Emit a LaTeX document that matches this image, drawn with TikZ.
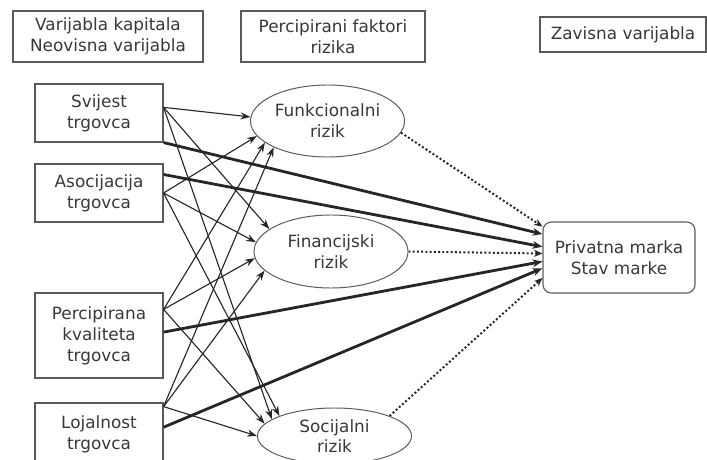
\documentclass[tikz,border=0pt]{standalone}
\usepackage{fontspec}
\setmainfont{DejaVu Sans}
\usepackage{xcolor}
\usetikzlibrary{positioning}
\usetikzlibrary{arrows, shapes, arrows.meta}
\definecolor{boxgray}{HTML}{5A5A5A}
\definecolor{txtgray}{HTML}{383838}
\tikzstyle{hdr} = [rectangle, draw=boxgray, line width=0.8pt, text=txtgray, align=center, font=\fontsize{12}{15}\selectfont]
\tikzstyle{var} = [rectangle, draw=boxgray, line width=0.8pt, minimum width=3.2cm, text=txtgray, align=center, font=\fontsize{12}{15}\selectfont]
\tikzstyle{risk} = [ellipse, draw=boxgray, line width=0.7pt, inner sep=0pt, minimum width=3.85cm, text=txtgray, align=center, font=\fontsize{12}{15}\selectfont]
\tikzstyle{arrow} = [line width=0.8pt, black!85, -{Stealth[length=7pt,width=5pt]}]
\tikzstyle{bold} = [line width=2pt, black!85, -{Stealth[length=7pt,width=5.5pt]}]
\tikzstyle{dots} = [line width=1.4pt, black!85, dash pattern=on 1.4pt off 1.6pt, -{Stealth[length=6pt,width=5pt]}]

\begin{document}
\begin{tikzpicture}[x=0.025cm, y=-0.025cm]
    \useasboundingbox (0,0) rectangle (707,459);
    % headers
    \node[hdr, minimum width=4.75cm, minimum height=1.275cm] (hA) at (108,36.5) {Varijabla kapitala\\Neovisna varijabla};
    \node[hdr, minimum width=4.6cm, minimum height=1.275cm] (hB) at (333,36.5) {Percipirani faktori\\rizika};
    \node[hdr, minimum width=4.15cm, minimum height=0.875cm] (hC) at (623,34.5) {Zavisna varijabla};
    % capital variables
    \node[var, minimum height=1.45cm] (svijest) at (99,113) {Svijest\\trgovca};
    \node[var, minimum height=1.45cm] (asoc) at (99,193) {Asocijacija\\trgovca};
    \node[var, minimum height=2.125cm] (perc) at (99,335.5) {Percipirana\\kvaliteta\\trgovca};
    \node[var, minimum height=1.55cm] (lojal) at (99,434) {Lojalnost\\trgovca};
    % perceived risks
    \node[risk, minimum height=1.8cm] (funk) at (327.5,121) {Funkcionalni\\rizik};
    \node[risk, minimum height=1.825cm] (fin) at (331,251.5) {Financijski\\rizik};
    \node[risk, minimum height=1.4cm, font=\fontsize{12}{14}\selectfont] (soc) at (334.5,436) {Socijalni\\rizik};
    % dependent variable
    \node[shape=rectangle, rounded corners=6pt, draw=boxgray, line width=0.8pt, text=txtgray, align=center,
          minimum width=3.8cm, minimum height=1.775cm, font=\fontsize{12}{15}\selectfont] (priv) at (619,257.5) {Privatna marka\\Stav marke};
    % capital -> risk
    \path [arrow] (svijest.5) edge (funk.177) edge (fin.160) edge (soc.165);
    \path [arrow] (asoc.east) edge (funk.192) edge (fin.173) edge (soc.160);
    \path [arrow] (perc.22) edge (funk.199) edge (fin.185) edge (soc.170);
    \path [arrow] (lojal.23) edge (funk.206) edge (fin.196) edge (soc.180);
    % capital -> brand
    \path [bold] (svijest.south east) edge (priv.163);
    \path [bold] (asoc.16) edge (priv.172);
    \path [bold] (perc.3) edge (priv.183);
    \path [bold] (lojal.6) edge (priv.188);
    % risk -> brand
    \path [dots] (funk.351) edge (priv.158);
    \path [dots] (fin.east) edge (priv.177);
    \path [dots] (soc.20) edge (priv.195);
\end{tikzpicture}
\end{document}
